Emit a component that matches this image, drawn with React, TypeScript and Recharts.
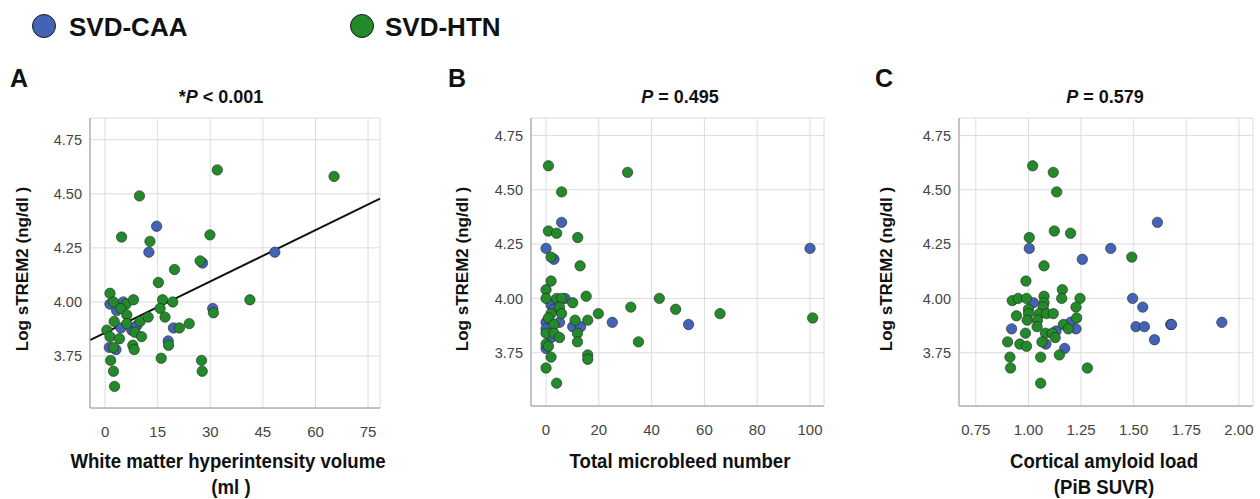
import React from "react"
import { ScatterChart, Scatter, XAxis, YAxis, CartesianGrid, ReferenceLine } from "recharts"

// Panel A: white matter hyperintensity volume (ml)
const aCaaX = [1.4, 5.2, 3.3, 4.5, 7.6, 9.0, 1.2, 3.1, 14.7, 12.5, 27.8, 19.5, 18.0, 30.7, 48.4]
const aCaaY = [3.99, 4.0, 3.96, 3.88, 3.87, 3.89, 3.79, 3.78, 4.35, 4.23, 4.18, 3.88, 3.82, 3.97, 4.23]
const aHtnX = [1.4, 2.4, 6.0, 8.1, 4.5, 6.2, 2.6, 0.5, 1.4, 4.1, 6.2, 8.5, 10.0, 12.3, 10.4, 7.9, 8.3, 2.4, 1.6, 2.4, 2.7, 4.7, 9.8, 12.8, 15.2, 16.4, 15.7, 17.1, 19.3, 19.8, 16.0, 18.1, 21.2, 24.0, 27.1, 27.5, 27.7, 29.9, 30.9, 32.0, 41.3, 65.3]
const aHtnY = [4.04, 4.0, 3.99, 4.01, 3.97, 3.94, 3.91, 3.87, 3.84, 3.83, 3.9, 3.86, 3.91, 3.93, 3.84, 3.8, 3.78, 3.79, 3.73, 3.68, 3.61, 4.3, 4.49, 4.28, 4.09, 4.01, 3.97, 3.93, 4.0, 4.15, 3.74, 3.8, 3.88, 3.9, 4.19, 3.73, 3.68, 4.31, 3.95, 4.61, 4.01, 4.58]
const aFitX = [-4.3, 78.4]
const aFitY = [3.824, 4.477]

// Panel B: total microbleed number
const bCaaX = [5.9, 0, 3.0, 7.2, 1.9, 2.8, 0, 0, 5.1, 10.1, 13.1, 1.9, 0, 25.1, 54.0, 100]
const bCaaY = [4.35, 4.23, 4.18, 4.0, 3.97, 3.95, 3.89, 3.86, 3.89, 3.87, 3.87, 3.82, 3.77, 3.89, 3.88, 4.23]
const bHtnX = [0.9, 5.9, 0.9, 4.0, 12.0, 1.9, 12.9, 1.9, 0, 0, 4.0, 5.9, 5.1, 5.9, 10.1, 15.2, 1.9, 0.9, 3.0, 0, 3.0, 5.1, 0, 0.9, 1.9, 0, 4.0, 11.0, 11.9, 11.9, 15.8, 15.8, 15.8, 19.8, 30.9, 32.1, 35.0, 42.9, 49.1, 65.9, 101.0]
const bHtnY = [4.61, 4.49, 4.31, 4.3, 4.28, 4.19, 4.15, 4.08, 4.04, 4.0, 4.0, 4.0, 3.96, 3.93, 3.98, 4.01, 3.93, 3.91, 3.88, 3.84, 3.84, 3.82, 3.79, 3.78, 3.73, 3.68, 3.61, 3.9, 3.84, 3.8, 3.9, 3.74, 3.72, 3.93, 4.58, 3.96, 3.8, 4.0, 3.95, 3.93, 3.91]

// Panel C: cortical amyloid load (PiB SUVR)
const cCaaX = [1.613, 1.004, 1.391, 1.256, 1.023, 1.495, 1.543, 0.92, 1.131, 1.2, 1.226, 1.511, 1.551, 1.083, 1.172, 1.599, 1.676, 1.68, 1.919]
const cCaaY = [4.35, 4.23, 4.23, 4.18, 3.98, 4.0, 3.96, 3.86, 3.85, 3.89, 3.86, 3.87, 3.87, 3.79, 3.77, 3.81, 3.88, 3.88, 3.89]
const cHtnX = [1.02, 1.118, 1.134, 1.123, 1.2, 1.004, 1.491, 1.074, 0.988, 0.923, 0.951, 0.991, 1.074, 1.074, 1.161, 1.158, 1.245, 1.226, 1.0, 1.0, 1.07, 1.051, 1.086, 1.118, 0.943, 0.994, 1.043, 1.229, 1.041, 1.166, 1.189, 0.986, 1.081, 1.113, 1.127, 1.064, 0.901, 0.959, 0.991, 0.912, 1.058, 1.147, 0.915, 1.28, 1.058]
const cHtnY = [4.61, 4.58, 4.49, 4.31, 4.3, 4.28, 4.19, 4.15, 4.08, 3.99, 4.0, 4.0, 4.01, 3.98, 4.04, 4.0, 4.0, 3.96, 3.95, 3.93, 3.96, 3.93, 3.93, 3.93, 3.92, 3.9, 3.9, 3.91, 3.87, 3.88, 3.86, 3.84, 3.84, 3.84, 3.82, 3.8, 3.8, 3.79, 3.78, 3.73, 3.73, 3.74, 3.68, 3.68, 3.61]

const yTicks = [3.75, 4.0, 4.25, 4.5, 4.75]
const aTicks = [0, 15, 30, 45, 60, 75]
const bTicks = [0, 20, 40, 60, 80, 100]
const cTicks = [0.75, 1.0, 1.25, 1.5, 1.75, 2.0]

const BLUE = "#4462b6"
const GREEN = "#23892b"

const pts = (xs: number[], ys: number[]) => xs.map((x, i) => ({ x, y: ys[i] }))

const dot = (color: string) => (p: any) => (
  <circle cx={p.cx} cy={p.cy} r={5.2} fill={color} stroke="#1f2a1f" strokeWidth={0.6} />
)

const font = "Liberation Sans, Arial, sans-serif"
const yTick = { fill: "#444", fontSize: 14.5, fontFamily: font }
const xTick = { fill: "#444", fontSize: 15, fontFamily: font }
const grid = "#dcdcdc"
const axisLine = { stroke: "#9a9a9a" }

type PanelProps = {
  left: number
  margin: { top: number; right: number; bottom: number; left: number }
  xDomain: number[]
  yDomain: number[]
  xTicks: number[]
  xFmt: (v: number) => string
  caa: { x: number; y: number }[]
  htn: { x: number; y: number }[]
  fit?: { x: number; y: number }[]
}

function Panel({ left, margin, xDomain, yDomain, xTicks, xFmt, caa, htn, fit }: PanelProps) {
  return (
    <div style={{ position: "absolute", left, top: 0 }}>
      <ScatterChart width={400} height={499} margin={margin}>
        <CartesianGrid stroke={grid} />
        <XAxis type="number" dataKey="x" domain={xDomain} ticks={xTicks} allowDataOverflow tickFormatter={xFmt}
          tick={xTick} tickLine={false} axisLine={axisLine} height={30} interval={0} tickMargin={12} />
        <YAxis type="number" dataKey="y" domain={yDomain} ticks={yTicks} allowDataOverflow tickFormatter={(v: number) => v.toFixed(2)}
          tick={yTick} tickLine={false} axisLine={axisLine} width={40} interval={0} />
        <Scatter data={caa} fill={BLUE} shape={dot(BLUE)} isAnimationActive={false} />
        <Scatter data={htn} fill={GREEN} shape={dot(GREEN)} isAnimationActive={false} />
        {fit && <ReferenceLine segment={fit} stroke="#111" strokeWidth={2} ifOverflow="visible" />}
      </ScatterChart>
    </div>
  )
}

const bold = { fontFamily: font, fontWeight: 700, color: "#111", position: "absolute" as const, whiteSpace: "nowrap" as const }
const axisTitle = { ...bold, fontSize: 20, transform: "translateX(-50%) scaleX(0.93)", textAlign: "center" as const }

function YTitle({ cx }: { cx: number }) {
  return (
    <div style={{ ...bold, fontSize: 17, left: cx, top: 269, transform: "translate(-50%, -50%) rotate(-90deg)" }}>
      Log sTREM2 (ng/dl )
    </div>
  )
}

function Title({ cx, children }: { cx: number; children: React.ReactNode }) {
  return <div style={{ ...bold, fontSize: 18, left: cx, top: 87, transform: "translateX(-50%)" }}>{children}</div>
}

function LegendDot({ cx, color }: { cx: number; color: string }) {
  return (
    <div style={{ position: "absolute", left: cx - 12.5, top: 14, width: 22, height: 22, borderRadius: "50%", background: color, border: "1.5px solid #1a1a1a" }} />
  )
}

export default function App() {
  return (
    <div style={{ position: "absolute", left: 0, top: 0, width: 1260, height: 499, background: "#fff", overflow: "hidden" }}>
      <LegendDot cx={44} color={BLUE} />
      <div style={{ ...bold, fontSize: 26, left: 69, top: 12 }}>SVD-CAA</div>
      <LegendDot cx={362} color={GREEN} />
      <div style={{ ...bold, fontSize: 26, left: 385, top: 12 }}>SVD-HTN</div>

      <div style={{ ...bold, fontSize: 25, left: 10, top: 64 }}>A</div>
      <div style={{ ...bold, fontSize: 25, left: 448, top: 64 }}>B</div>
      <div style={{ ...bold, fontSize: 25, left: 875, top: 64 }}>C</div>

      <Title cx={221}>*<i>P</i> &lt; 0.001</Title>
      <Title cx={680}><i>P</i> = 0.495</Title>
      <Title cx={1105}><i>P</i> = 0.579</Title>

      <YTitle cx={23} />
      <YTitle cx={463} />
      <YTitle cx={887} />

      <Panel left={0} margin={{ top: 118, right: 20, bottom: 61, left: 50 }} xDomain={[-4.3, 78.4]} yDomain={[3.51, 4.85]}
        xTicks={aTicks} xFmt={(v) => String(v)} caa={pts(aCaaX, aCaaY)} htn={pts(aHtnX, aHtnY)}
        fit={pts(aFitX, aFitY)} />
      <Panel left={440} margin={{ top: 118, right: 16, bottom: 63, left: 51 }} xDomain={[-5.7, 105.3]} yDomain={[3.505, 4.83]}
        xTicks={bTicks} xFmt={(v) => String(v)} caa={pts(bCaaX, bCaaY)} htn={pts(bHtnX, bHtnY)} />
      <Panel left={860} margin={{ top: 118, right: 7, bottom: 63, left: 59 }} xDomain={[0.67, 2.067]} yDomain={[3.505, 4.83]}
        xTicks={cTicks} xFmt={(v) => v.toFixed(2)} caa={pts(cCaaX, cCaaY)} htn={pts(cHtnX, cHtnY)} />

      <div style={{ ...axisTitle, left: 228, top: 450 }}>White matter hyperintensity volume</div>
      <div style={{ ...axisTitle, left: 231, top: 476 }}>(ml )</div>
      <div style={{ ...axisTitle, left: 680, top: 450 }}>Total microbleed number</div>
      <div style={{ ...axisTitle, left: 1104, top: 450 }}>Cortical amyloid load</div>
      <div style={{ ...axisTitle, left: 1104, top: 476 }}>(PiB SUVR)</div>
    </div>
  )
}
